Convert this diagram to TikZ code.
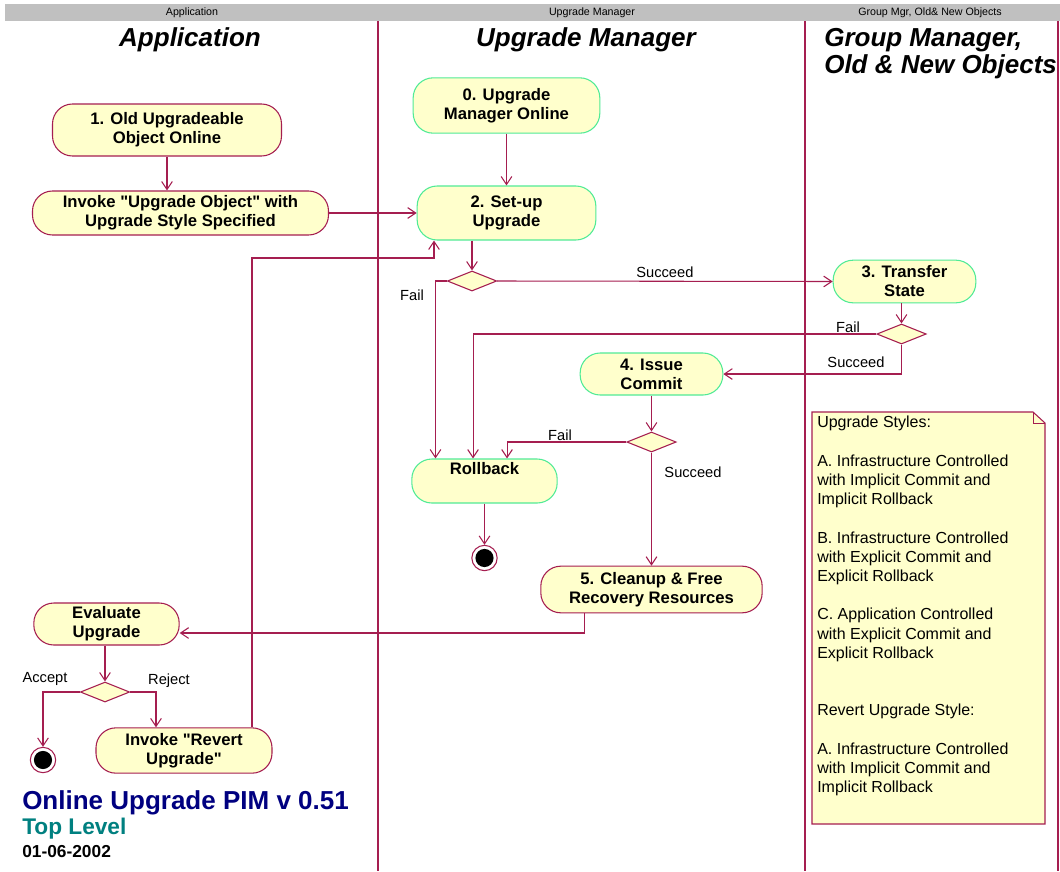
\documentclass[tikz,border=0pt]{standalone}
\usepackage{fontspec}
\setmainfont{Liberation Sans}
\usetikzlibrary{arrows.meta,shapes.geometric}
\definecolor{rose}{RGB}{165,30,80}
\definecolor{grn}{RGB}{80,235,150}
\definecolor{ylw}{RGB}{255,255,204}
\definecolor{navy}{RGB}{0,0,128}
\definecolor{teal}{RGB}{0,128,128}
\definecolor{hdr}{RGB}{192,192,192}
\newcommand{\qq}{\XeTeXglyph\XeTeXcharglyph"22\relax}
\begin{document}
\begin{tikzpicture}[x=0.75pt,y=-0.75pt,
  act/.style={draw=rose, fill=ylw, rounded corners=15pt, line width=0.8pt,
    font=\fontsize{12.5}{14.25}\selectfont\bfseries, align=center, inner sep=0pt},
  actg/.style={act, draw=grn},
  dec/.style={diamond, draw=rose, fill=ylw, line width=0.8pt, aspect=2.5,
    minimum width=37pt, minimum height=15pt, inner sep=0pt},
  arr/.style={draw=rose, line width=0.8pt, -{Straight Barb[length=6pt,width=8pt]}},
  lbl/.style={font=\fontsize{11}{13}\selectfont, inner sep=0pt},
  fin/.style={circle, draw=rose, fill=white, line width=0.8pt, minimum size=19pt, inner sep=0pt,
    path picture={\fill[black] (path picture bounding box.center) circle (6.8pt);}},
  lane/.style={draw=rose, line width=0.8pt},
  lanetitle/.style={font=\fontsize{19.5}{20.25}\selectfont\bfseries\itshape, inner sep=0pt, align=left},
  hdrtext/.style={font=\fontsize{8}{9}\selectfont, inner sep=0pt}
]
\useasboundingbox (0,0) rectangle (1060,871);
\fill[white] (0,0) rectangle (1060,871);

% header bar
\fill[hdr] (5,4) rectangle (1060,21);
\node[hdrtext] (h1) at (192,12.5) {Application};
\node[hdrtext] (h2) at (592,12.5) {Upgrade Manager};
\node[hdrtext] (h3) at (930,12.5) {Group Mgr, Old\& New Objects};

% lanes
\draw[lane] (378,21) -- (378,871);
\draw[lane] (805,21) -- (805,871);
\draw[lane] (1058,21) -- (1058,871);

\node[lanetitle] (t1) at (190,40) {Application};
\node[lanetitle] (t2) at (586,40) {Upgrade Manager};
\node[lanetitle, anchor=west] (t3) at (824,53.5) {Group Manager,\\Old \& New Objects};

% activities
\node[act, minimum width=171.75pt, minimum height=39pt] (n1) at (167,130) {1. Old Upgradeable\\Object Online};
\node[act, minimum width=222pt, minimum height=33pt] (inv) at (180.5,213) {Invoke \qq Upgrade Object\qq{} with\\Upgrade Style Specified};
\node[actg, minimum width=140pt, minimum height=41.5pt] (n0) at (506.5,105.5) {0. Upgrade\\Manager Online};
\node[actg, minimum width=134pt, minimum height=40.5pt] (n2) at (506.5,213) {2. Set-up\\Upgrade};
\node[dec] (d1) at (472,281) {};
\node[actg, minimum width=107pt, minimum height=32pt] (n3) at (904.5,281.5) {3. Transfer\\State};
\node[dec] (d2) at (901.5,334) {};
\node[actg, minimum width=107pt, minimum height=31.5pt] (n4) at (651.5,374) {4. Issue\\Commit};
\node[dec] (d3) at (651.5,442) {};
\node[actg, minimum width=109pt, minimum height=33pt] (rb) at (484.5,481) {Rollback\\\strut};
\node[fin] (f1) at (484.5,558) {};
\node[act, minimum width=166pt, minimum height=35pt] (n5) at (651.5,589.5) {5. Cleanup \& Free\\Recovery Resources};
\node[act, minimum width=109pt, minimum height=31.5pt] (ev) at (106.5,624) {Evaluate\\Upgrade};
\node[dec] (d4) at (105,692) {};
\node[fin] (f2) at (43,760) {};
\node[act, minimum width=132pt, minimum height=34pt] (rv) at (184,750.5) {Invoke \qq Revert\\Upgrade\qq};

% connectors
\draw[arr] (n1.south) -- (n1.south |- inv.north);
\draw[arr] (inv.east) -- (n2.west);
\draw[arr] (n0.south) -- (n2.north);
\draw[arr] (d1 |- n2.south) -- (d1.north);
\draw[arr] (d1.east) -- node[lbl, above=2.5pt] (ls1) {Succeed} (n3.west);
\draw[arr] (d1.west) -| ([xshift=-36.75pt]rb.north);
\node[lbl] (lf1) at (412,295) {Fail};
\draw[arr] (d2 |- n3.south) -- (d2.north);
\draw[arr] (d2.west) -| ([xshift=-8.6pt]rb.north);
\node[lbl] (lf2) at (848,327) {Fail};
\draw[arr] (d2.south) |- (n4.east);
\node[lbl] (ls2) at (856,362) {Succeed};
\draw[arr] (d3 |- n4.south) -- (d3.north);
\draw[arr] (d3.west) -| ([xshift=16.9pt]rb.north);
\node[lbl] (lf3) at (560,435) {Fail};
\draw[arr] (d3.south) -- (d3 |- n5.north);
\node[lbl] (ls3) at (693,472) {Succeed};
\draw[arr] (f1 |- rb.south) -- (f1.north);
\draw[arr] ([xshift=-50.6pt]n5.south) |- ([yshift=-6.75pt]ev.east);
\draw[arr] (d4 |- ev.south) -- (d4.north);
\draw[arr] (d4.west) -| (f2.north);
\node[lbl] (la) at (45,679) {Accept};
\draw[arr] (d4.east) -| ([xshift=-21pt]rv.north);
\node[lbl] (lr) at (169,681) {Reject};
\coordinate (rt) at (434,258);
\draw[arr] ([xshift=51pt]rv.north) |- (rt) -- (rt |- n2.south);

% note
\draw[draw=rose, fill=ylw, line width=0.8pt] (812,412) -- (1033,412) -- (1045,423) -- (1045,824) -- (812,824) -- cycle;
\draw[draw=rose, line width=0.5pt] (1033,412) -- (1033,423) -- (1045,423);
\node[anchor=north west, inner sep=0pt, align=left, font=\fontsize{12}{14.4}\selectfont] (note) at (817,416)
{Upgrade Styles:\\
\strut\\
A. Infrastructure Controlled\\
with Implicit Commit and\\
Implicit Rollback\\
\strut\\
B. Infrastructure Controlled\\
with Explicit Commit and\\
Explicit Rollback\\
\strut\\
C. Application Controlled\\
with Explicit Commit and\\
Explicit Rollback\\
\strut\\
\strut\\
Revert Upgrade Style:\\
\strut\\
A. Infrastructure Controlled\\
with Implicit Commit and\\
Implicit Rollback};

% title block
\node[anchor=west, inner sep=0pt, text=navy, font=\fontsize{19.5}{22}\selectfont\bfseries] (ttl) at (22,803) {Online Upgrade PIM v 0.51};
\node[anchor=west, inner sep=0pt, text=teal, font=\fontsize{17}{20}\selectfont\bfseries] (sub) at (22,829) {Top Level};
\node[anchor=west, inner sep=0pt, font=\fontsize{13}{15}\selectfont\bfseries] (date) at (22,852) {01-06-2002};
\end{tikzpicture}
\end{document}
